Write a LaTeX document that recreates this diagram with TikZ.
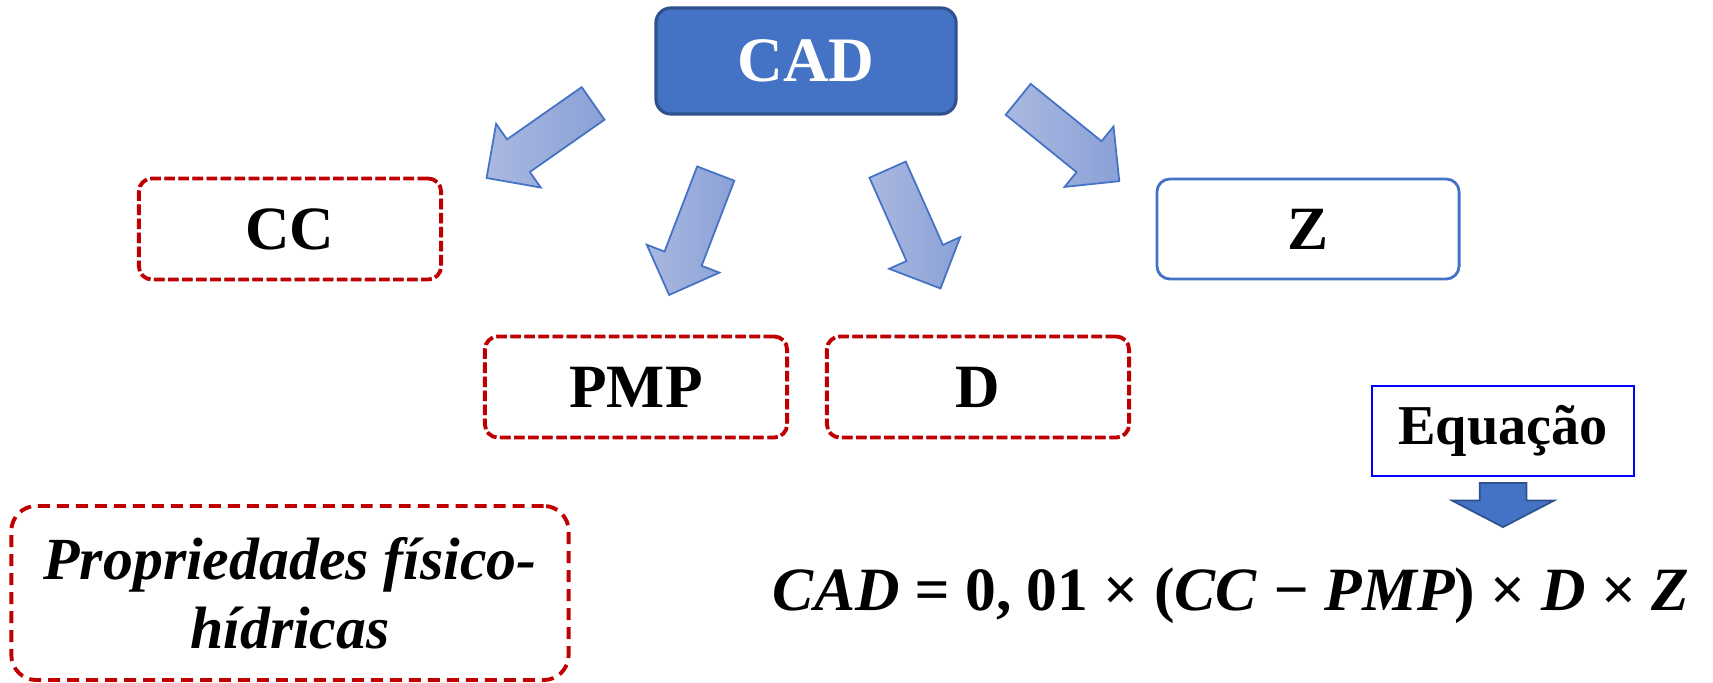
\documentclass[tikz,border=0pt]{standalone}
\usepackage{fontspec}
\setmainfont{Liberation Serif}
\usetikzlibrary{shapes.arrows,positioning,calc}
\definecolor{CadBlue}{HTML}{4472C4}
\definecolor{CadEdge}{HTML}{2F528F}
\definecolor{BoxBlue}{HTML}{4472C4}
\definecolor{DashRed}{HTML}{C00000}
\definecolor{EqBlue}{HTML}{0000FF}
\definecolor{ArrowLight}{HTML}{AAB8E0}
\definecolor{ArrowDark}{HTML}{8AA1D6}
\tikzset{
  cadbox/.style={rectangle, rounded corners=0.15cm, draw=CadEdge, fill=CadBlue,
    line width=0.9pt, minimum width=3.0cm, minimum height=1.06cm,
    text=white, font=\fontsize{18}{21}\selectfont\bfseries},
  varbox/.style={rectangle, rounded corners=0.13cm, minimum width=3.02cm,
    minimum height=1.01cm, font=\fontsize{17.5}{21}\selectfont\bfseries,
    preaction={draw=BoxBlue, line width=0.6pt},
    draw=DashRed, line width=1.1pt, dash pattern=on 3pt off 1pt},
  plainbox/.style={rectangle, rounded corners=0.13cm, draw=BoxBlue,
    line width=0.8pt, minimum width=3.02cm, minimum height=1.0cm,
    font=\fontsize{17.5}{21}\selectfont\bfseries},
  eqbox/.style={rectangle, draw=EqBlue, line width=0.7pt,
    minimum width=2.62cm, minimum height=0.9cm,
    font=\fontsize{16}{19}\selectfont\bfseries},
  propbox/.style={rectangle, rounded corners=0.25cm, draw=DashRed,
    line width=1.1pt, dash pattern=on 3.4pt off 2pt,
    minimum width=5.57cm, minimum height=1.74cm, align=center,
    font=\fontsize{17}{19.5}\selectfont\bfseries\itshape},
  blockarrow/.style={single arrow, draw=BoxBlue, line width=0.5pt,
    left color=ArrowLight, right color=ArrowDark,
    inner xsep=0pt, inner ysep=0.19cm,
    minimum height=1.3cm, minimum width=0.77cm,
    single arrow head extend=0.19cm, single arrow tip angle=90},
  eqarrow/.style={single arrow, draw=CadEdge, line width=0.5pt,
    fill=CadBlue, inner xsep=0pt, inner ysep=0.225cm,
    minimum height=0.44cm, minimum width=1.0cm,
    single arrow head extend=0.275cm, single arrow tip angle=125},
  eqline/.style={inner sep=0pt, font=\fontsize{17.5}{21}\selectfont\bfseries}
}
\begin{document}
\begin{tikzpicture}[x=0.01cm, y=-0.01cm]
\path[use as bounding box] (0,0) rectangle (1713,683);

\node[cadbox] (cad) at (806,61) {CAD};

\node[varbox]   (cc)  at (290,229) {CC};
\node[varbox]   (pmp) at (636,387) {PMP};
\node[varbox]   (d)   at (978,387) {D};
\node[plainbox] (z)   at (1308,229) {Z};

% block arrows out of CAD
\node[blockarrow, rotate=215] (tocc)  at (548,135) {};
\node[blockarrow, rotate=249] (topmp) at (696,225) {};
\node[blockarrow, rotate=294] (tod)   at (910,220) {};
\node[blockarrow, rotate=-39] (toz)   at (1061,134) {};

\node[propbox] (props) at (290,593) {Propriedades físico-\\hídricas};

\node[eqbox] (eq) at (1503,431) {Equação};
\node[eqarrow, rotate=-90] (eqdown) at (1503,499) {};

\node[eqline] (cadformula) at (1231,596) {\itshape CAD = \upshape 0, 01 × (\itshape CC − PMP\upshape) × \itshape D \upshape× \itshape Z};

\end{tikzpicture}
\end{document}
